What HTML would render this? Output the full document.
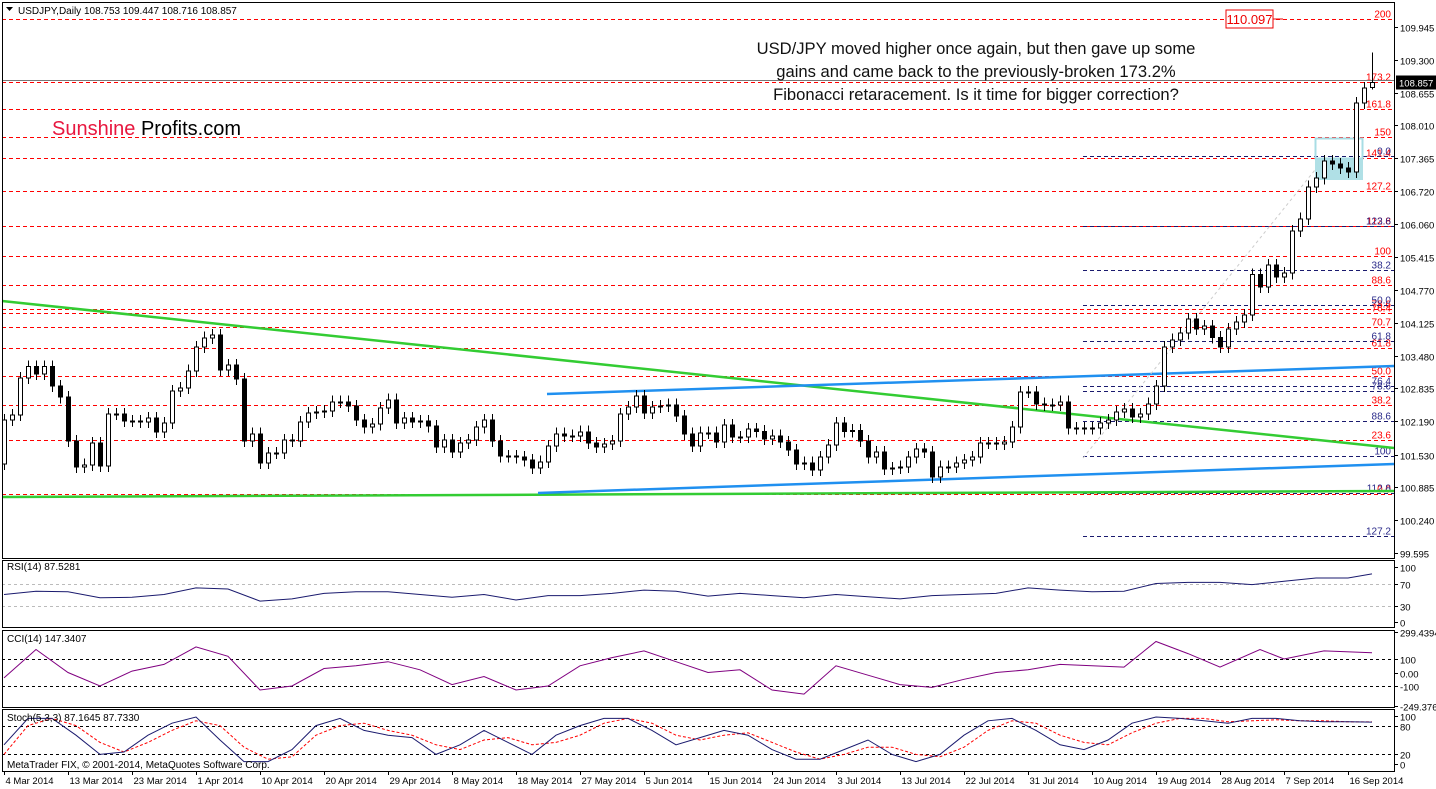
<!DOCTYPE html>
<html><head><meta charset="utf-8"><style>
html,body{margin:0;padding:0;background:#fff;}
svg{display:block;font-family:"Liberation Sans",sans-serif;}
line,rect{shape-rendering:crispEdges;}
</style></head><body>
<svg id="chart" width="1436" height="789" viewBox="0 0 1436 789">
<rect x="0" y="0" width="1436" height="789" fill="#fff"/>
<g id="grid"></g>
<g id="trend"></g>
<g id="candles"></g>
<g id="ind"></g>
<g id="axes"></g>
<text x="18" y="14" font-size="10" fill="#000">USDJPY,Daily  108.753 109.447 108.716 108.857</text>
<path d="M6 7 L13 7 L9.5 11 Z" fill="#000"/>
<text x="52" y="135" font-size="20"><tspan fill="#e8173f">Sunshine</tspan><tspan fill="#000"> Profits.com</tspan></text>
<g font-size="16.6" fill="#111" text-anchor="middle">
<text x="976" y="54">USD/JPY moved higher once again, but then gave up some</text>
<text x="976" y="77">gains and came back to the previously-broken 173.2%</text>
<text x="976" y="100">Fibonacci retaracement. Is it time for bigger correction?</text>
</g>
<rect x="1226" y="10" width="47" height="18" fill="#fff" stroke="#e00"/>
<line x1="1273" y1="19" x2="1283" y2="19" stroke="#e00"/>
<text x="1249.5" y="24" font-size="13" fill="#e00" text-anchor="middle">110.097</text>
</svg>
<script>
const closes=[102.21,102.31,103.04,103.26,103.12,103.26,102.88,102.66,101.80,101.29,101.33,101.76,101.31,102.33,102.33,102.19,102.19,102.17,102.25,101.98,102.15,102.78,102.84,103.18,103.65,103.83,103.88,103.20,103.29,103.02,101.80,101.94,101.37,101.56,101.56,101.82,101.80,102.17,102.35,102.37,102.39,102.57,102.57,102.49,102.21,102.07,102.13,102.45,102.61,102.15,102.25,102.17,102.19,102.09,101.68,101.82,101.58,101.76,101.82,102.07,
102.21,101.80,101.50,101.50,101.48,101.42,101.27,101.39,101.70,101.94,101.90,101.90,101.98,101.76,101.68,101.74,101.80,102.33,102.47,102.68,102.35,102.47,102.49,102.51,102.29,101.94,101.70,101.96,101.96,101.78,102.11,101.88,101.88,102.03,101.99,101.84,101.90,101.78,101.62,101.35,101.37,101.23,101.48,101.72,102.15,101.99,102.01,101.80,101.48,101.58,101.25,101.27,101.29,101.48,101.64,101.58,101.09,101.29,101.29,
101.37,101.42,101.48,101.76,101.76,101.74,101.78,102.07,102.76,102.76,102.53,102.51,102.51,102.57,102.05,102.05,102.05,102.05,102.15,102.21,102.37,102.43,102.27,102.33,102.53,102.88,103.65,103.79,103.92,104.20,104.00,104.06,103.84,103.65,104.00,104.14,104.28,
105.07,104.83,105.26,105.03,105.10,105.93,106.17,106.80,106.97,107.31,107.25,107.17,107.09,108.45,108.74,108.857];
const firstOpen=101.35;
const lastBar={open:108.753,high:109.447,low:108.716};
const priceTicks=[109.945,109.300,108.655,108.010,107.365,106.720,106.060,105.415,104.770,104.125,103.480,102.835,102.190,101.530,100.885,100.240,99.595];
const dateLabels=["4 Mar 2014","13 Mar 2014","23 Mar 2014","1 Apr 2014","10 Apr 2014","20 Apr 2014","29 Apr 2014","8 May 2014","18 May 2014","27 May 2014","5 Jun 2014","15 Jun 2014","24 Jun 2014","3 Jul 2014","13 Jul 2014","22 Jul 2014","31 Jul 2014","10 Aug 2014","19 Aug 2014","28 Aug 2014","7 Sep 2014","16 Sep 2014"];
const redLevels=[110.097,108.857,108.33,107.78,107.37,106.72,106.03,105.43,104.87,104.40,104.31,104.04,103.62,103.07,102.51,101.82,100.75];
const redLabels=["200","173.2","161.8","150","141.4","127.2","112.8","100","88.6","78.6","76.4","70.7","61.8","50.0","38.2","23.6","0.0"];
const blueLevels=[107.41,106.03,105.17,104.48,103.76,102.89,102.78,102.19,101.50,100.77,99.92];
const blueLabels=["0.0","123.6","38.2","50.0","61.8","76.4","78.6","88.6","100","112.8","127.2"];
const rsiIdx=[0,4,8,12,16,20,24,28,32,36,40,44,48,52,56,60,64,68,72,76,80,84,88,92,96,100,104,108,112,116,120,124,128,132,136,140,144,148,152,156,160,164,168,171];
const rsiVals=[50,56,55,44,45,50,62,60,38,42,52,55,55,50,45,50,40,48,48,52,58,56,47,52,48,44,50,46,42,48,50,52,62,58,55,56,70,72,72,68,74,80,80,87.5];
const cciIdx=[0,4,8,12,16,20,24,28,32,36,40,44,48,52,56,60,64,68,72,76,80,84,88,92,96,100,104,108,112,116,120,124,128,132,136,140,144,148,152,157,160,165,171];
const cciVals=[-40,170,0,-100,10,60,190,120,-130,-100,30,50,80,20,-90,-30,-130,-100,50,110,160,80,0,20,-130,-160,50,-20,-90,-110,-50,0,20,60,50,40,230,140,40,170,100,160,147];
const stIdx=[0,3,6,9,12,15,18,21,24,27,30,33,36,39,42,45,48,51,54,57,60,63,66,69,72,75,78,81,84,87,90,93,96,99,102,105,108,111,114,117,120,123,126,129,132,135,138,141,144,147,150,153,156,159,162,165,168,171];
const stMain=[40,95,95,60,20,25,60,85,98,50,5,5,30,80,95,70,60,55,20,40,70,45,20,60,80,95,95,70,40,55,70,60,30,10,10,30,50,20,5,20,60,90,95,70,40,30,50,85,98,95,90,85,95,95,90,88,88,87.2];
const stSignal=[20,80,95,80,45,25,45,70,90,80,35,10,15,60,80,85,70,60,40,30,50,55,40,45,60,85,95,85,60,50,60,65,45,25,10,20,35,35,20,15,35,70,90,85,60,45,40,65,85,95,95,88,90,92,90,90,88,87.7];

const NS="http://www.w3.org/2000/svg";
const L=2,R=1394;
const xB=i=>4+8*i;
const yP=p=>27+(109.945-p)*50.82;
const yR=v=>622-v*0.55;
const yC=v=>672.5-v*0.135;
const yS=v=>764-v*0.48;
function mk(par,tag,at){const e=document.createElementNS(NS,tag);for(const k in at)e.setAttribute(k,at[k]);document.getElementById(par).appendChild(e);return e;}

const panels=[[2,1392,556],[560,1392,67],[630,1392,77],[709,1392,62]];
const pnames=['main-panel','rsi-panel','cci-panel','stoch-panel'];
panels.forEach((p,i)=>{const e=mk('axes','rect',{x:L+0.5,y:p[0]+0.5,width:p[1],height:p[2],fill:'none',stroke:'#000'});

});

redLevels.forEach((v,i)=>{const y=Math.round(yP(v))+0.5;
const l=mk('grid','line',{x1:L,x2:R,y1:y,y2:y,stroke:'#ff0000','stroke-width':1,'stroke-dasharray':'4,3'});


const t=mk('grid','text',{x:1391,y:y-2,'font-size':10,fill:'#f00','text-anchor':'end'});t.textContent=redLabels[i];

});
blueLevels.forEach((v,i)=>{const y=Math.round(yP(v))+0.5;
const l=mk('grid','line',{x1:1083,x2:R,y1:y,y2:y,stroke:'#1a1a6e','stroke-dasharray':'4,3'});


const t=mk('grid','text',{x:1391,y:y-2,'font-size':10,fill:'#2a2a8a','text-anchor':'end'});t.textContent=blueLabels[i];

});
{const y=Math.round(yP(closes[closes.length-1]))-1.5;
const l=mk('grid','line',{x1:L,x2:R,y1:y,y2:y,stroke:'#777'});

}

const tl=[[2,301,1394,448,'#33cc33','green-downtrend-line'],[2,497,1394,491,'#33cc33','green-support-line'],[547,394,1394,366,'#2090f0','blue-upper-channel'],[538,493,1394,464,'#2090f0','blue-lower-channel']];
tl.forEach(t=>{const l=mk('trend','line',{x1:t[0],y1:t[1],x2:t[2],y2:t[3],stroke:t[4],'stroke-width':2.5,style:'shape-rendering:auto'});

});
{const l=mk('trend','line',{x1:1083,y1:458,x2:1323,y2:160,stroke:'#ccc','stroke-dasharray':'3,3',style:'shape-rendering:auto'});

}
{const r=mk('trend','rect',{x:1315,y:159,width:48,height:21,fill:'#b0e0e6'});


const r2=mk('trend','rect',{x:1315.5,y:138.5,width:47,height:20,fill:'none',stroke:'#a8dde4','stroke-width':2});

}

closes.forEach((c,i)=>{
 const last=i===closes.length-1;
 const o=last?lastBar.open:(i===0?firstOpen:closes[i-1]);
 const hi=last?lastBar.high:Math.max(o,c)+0.12;
 const lo=last?lastBar.low:Math.min(o,c)-0.12;
 const x=xB(i)+0.5;
 const w=mk('candles','line',{x1:x,x2:x,y1:yP(hi),y2:yP(lo),stroke:'#000'});
 
 
 const top=yP(Math.max(o,c)),h=Math.max(1,yP(Math.min(o,c))-top);
 const b=mk('candles','rect',{x:x-2,y:top,width:4,height:h,fill:c>=o?'#fff':'#000',stroke:'#000'});
 
 
});

function poly(idx,vals,fy,color,dash,name){const pts=idx.map((k,j)=>xB(k)+','+fy(vals[j]).toFixed(1)).join(' ');
const e=mk('ind','polyline',{points:pts,fill:'none',stroke:color,'stroke-dasharray':dash||'none'});

}
function hl(y,color,name){const e=mk('ind','line',{x1:L,x2:R,y1:Math.round(y)+0.5,y2:Math.round(y)+0.5,stroke:color,'stroke-dasharray':'3,3'});

}
hl(yR(70),'#bbb','rsi-70-level');hl(yR(30),'#bbb','rsi-30-level');
hl(yC(100),'#000','cci-100-level');hl(yC(-100),'#000','cci-minus100-level');
hl(yS(80),'#000','stoch-80-level');hl(yS(20),'#000','stoch-20-level');
poly(rsiIdx,rsiVals,yR,'#1a1a6e','','rsi-line');
poly(cciIdx,cciVals,yC,'#800080','','cci-line');
poly(stIdx,stSignal,yS,'#f00','3,2','stoch-signal-line');
poly(stIdx,stMain,yS,'#1a1a6e','','stoch-main-line');
[['RSI(14) 87.5281',570,'rsi-title'],['CCI(14) 147.3407',642,'cci-title'],['Stoch(5,3,3) 87.1645 87.7330',721,'stoch-title'],['MetaTrader FIX, © 2001-2014, MetaQuotes Software Corp.',768,'copyright']].forEach(t=>{
const e=mk('ind','text',{x:7,y:t[1],'font-size':10,fill:'#000'});e.textContent=t[0];

});

priceTicks.forEach(v=>{const y=Math.round(yP(v))+0.5;
const k=mk('axes','line',{x1:R,x2:R+4,y1:y,y2:y,stroke:'#000'});


const t=mk('axes','text',{x:1400,y:y+4,'font-size':9.5,fill:'#000'});t.textContent=v.toFixed(3);

});
{const y=yP(closes[closes.length-1]);
const r=mk('axes','rect',{x:1396,y:y-7,width:40,height:14,fill:'#000'});


const t=mk('axes','text',{x:1399,y:y+4,'font-size':9.5,fill:'#fff'});t.textContent=closes[closes.length-1].toFixed(3);

}
const subTicks=[[yR,[100,70,30,0],['100','70','30','0']],[yC,[299.4394,100,0,-100,-249.3762],['299.4394','100','0.00','-100','-249.3762']],[yS,[100,80,20,0],['100','80','20','0']]];
subTicks.forEach(s=>{s[1].forEach((v,j)=>{const y=Math.round(s[0](v))+0.5;
const k=mk('axes','line',{x1:R,x2:R+4,y1:y,y2:y,stroke:'#000'});


const t=mk('axes','text',{x:1400,y:y+4,'font-size':9.5,fill:'#000'});t.textContent=s[2][j];

});});
dateLabels.forEach((d,i)=>{const x=xB(i*8)+0.5;
const k=mk('axes','line',{x1:x,x2:x,y1:771,y2:775,stroke:'#000'});


const t=mk('axes','text',{x:x+1,y:784,'font-size':9.5,fill:'#000'});t.textContent=d;

});
</script>
</body></html>
